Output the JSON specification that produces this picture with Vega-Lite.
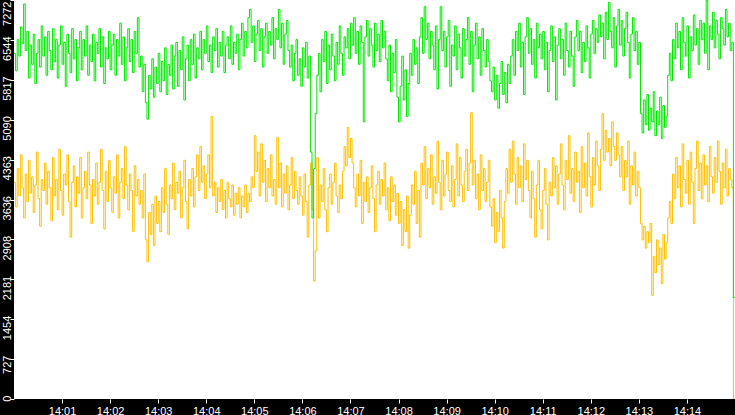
{
"$schema": "https://vega.github.io/schema/vega-lite/v6.json",
"width": 721, "height": 399,
"autosize": {"type": "none"},
"padding": {"left": 14, "top": 0, "right": 0, "bottom": 16},
"background": "#000000",
"config": {"view": {"fill": "#ffffff", "stroke": null},
"axis": {"grid": false, "domain": false, "labelColor": "#ffffff", "tickColor": "#ffffff", "labelFont": "Liberation Sans", "labelFontSize": 11, "tickSize": 4, "title": null, "labelOverlap": false}},
"data": {"values": [
{"t":0,"g":6300,"o":3950},{"t":2,"g":5980,"o":3500},{"t":4,"g":6550,"o":4200},{"t":6,"g":6250,"o":3700},{"t":8,"g":6780,"o":4450},{"t":10,"g":6480,"o":3850},{"t":12,"g":7200,"o":3300},{"t":14,"g":6350,"o":4100},{"t":16,"g":6700,"o":3600},{"t":18,"g":5850,"o":4350},
{"t":20,"g":6450,"o":3750},{"t":22,"g":6100,"o":4050},{"t":24,"g":6650,"o":3400},{"t":26,"g":5750,"o":3900},{"t":28,"g":6300,"o":4500},{"t":30,"g":6550,"o":3650},{"t":32,"g":6050,"o":3150},{"t":34,"g":6800,"o":4000},{"t":36,"g":6250,"o":3800},{"t":38,"g":6600,"o":4300},
{"t":40,"g":5900,"o":3550},{"t":42,"g":6700,"o":4150},{"t":44,"g":6350,"o":3850},{"t":46,"g":6000,"o":3250},{"t":48,"g":6750,"o":4400},{"t":50,"g":6150,"o":3700},{"t":52,"g":6550,"o":4000},{"t":54,"g":5850,"o":3450},{"t":56,"g":6450,"o":4550},{"t":58,"g":6800,"o":3800},
{"t":60,"g":6100,"o":3350},{"t":62,"g":6500,"o":4100},{"t":64,"g":5700,"o":3900},{"t":66,"g":6650,"o":4450},{"t":68,"g":6300,"o":3600},{"t":70,"g":5950,"o":2950},{"t":72,"g":6750,"o":3950},{"t":74,"g":6200,"o":4250},{"t":76,"g":6550,"o":3500},{"t":78,"g":5800,"o":4050},
{"t":80,"g":6400,"o":3750},{"t":82,"g":6700,"o":4400},{"t":84,"g":6000,"o":3300},{"t":86,"g":6550,"o":3850},{"t":88,"g":6250,"o":4150},{"t":90,"g":6800,"o":3650},{"t":92,"g":5900,"o":4500},{"t":94,"g":6450,"o":3900},{"t":96,"g":6150,"o":3200},{"t":98,"g":6650,"o":4000},
{"t":100,"g":5800,"o":3700},{"t":102,"g":6500,"o":4300},{"t":104,"g":6300,"o":3550},{"t":106,"g":6750,"o":3950},{"t":108,"g":6050,"o":4550},{"t":110,"g":6600,"o":3800},{"t":112,"g":5750,"o":3100},{"t":114,"g":6400,"o":4150},{"t":116,"g":6200,"o":3600},{"t":118,"g":6700,"o":4350},
{"t":120,"g":6000,"o":3850},{"t":122,"g":6450,"o":3400},{"t":124,"g":6650,"o":4050},{"t":126,"g":5900,"o":3750},{"t":128,"g":6550,"o":4450},{"t":130,"g":6250,"o":3300},{"t":132,"g":6850,"o":3950},{"t":134,"g":6100,"o":4200},{"t":136,"g":6600,"o":3650},{"t":138,"g":5800,"o":4600},
{"t":140,"g":6400,"o":3900},{"t":142,"g":6750,"o":3450},{"t":144,"g":6150,"o":4100},{"t":146,"g":6550,"o":3800},{"t":148,"g":5950,"o":3050},{"t":150,"g":6700,"o":4250},{"t":152,"g":6300,"o":3700},{"t":154,"g":6950,"o":4000},{"t":156,"g":6050,"o":3550},{"t":158,"g":6250,"o":3800},
{"t":160,"g":5600,"o":3300},{"t":162,"g":6100,"o":4100},{"t":164,"g":5400,"o":2900},{"t":166,"g":5100,"o":2500},{"t":168,"g":5900,"o":3400},{"t":170,"g":5650,"o":3000},{"t":172,"g":6200,"o":3550},{"t":174,"g":5500,"o":2800},{"t":176,"g":6050,"o":3700},{"t":178,"g":5750,"o":3200},
{"t":180,"g":6300,"o":3600},{"t":182,"g":5600,"o":3050},{"t":184,"g":6150,"o":3850},{"t":186,"g":5800,"o":3400},{"t":188,"g":6400,"o":4200},{"t":190,"g":5550,"o":3550},{"t":192,"g":6100,"o":3000},{"t":194,"g":5900,"o":3900},{"t":196,"g":6450,"o":3650},{"t":198,"g":5650,"o":4300},
{"t":200,"g":6250,"o":3450},{"t":202,"g":6500,"o":3950},{"t":204,"g":5700,"o":3750},{"t":206,"g":6350,"o":4150},{"t":208,"g":6000,"o":3300},{"t":210,"g":6600,"o":3850},{"t":212,"g":5450,"o":4350},{"t":214,"g":6200,"o":3600},{"t":216,"g":6450,"o":3100},{"t":218,"g":5800,"o":4000},
{"t":220,"g":6550,"o":3700},{"t":222,"g":6100,"o":4200},{"t":224,"g":6650,"o":3500},{"t":226,"g":5850,"o":4050},{"t":228,"g":6400,"o":4450},{"t":230,"g":6200,"o":3800},{"t":232,"g":6700,"o":4600},{"t":234,"g":6000,"o":3950},{"t":236,"g":6550,"o":4250},{"t":238,"g":6300,"o":3650},
{"t":240,"g":6800,"o":4100},{"t":242,"g":6150,"o":4450},{"t":244,"g":6450,"o":3850},{"t":246,"g":5950,"o":5150},{"t":248,"g":6600,"o":3700},{"t":250,"g":6350,"o":3950},{"t":252,"g":6750,"o":3400},{"t":254,"g":6050,"o":3850},{"t":256,"g":6500,"o":3600},{"t":258,"g":6250,"o":4000},
{"t":260,"g":6700,"o":3450},{"t":262,"g":5950,"o":3800},{"t":264,"g":6450,"o":3300},{"t":266,"g":6600,"o":3950},{"t":268,"g":6200,"o":3650},{"t":270,"g":6800,"o":3500},{"t":272,"g":6100,"o":3900},{"t":274,"g":6500,"o":3350},{"t":276,"g":6300,"o":3750},{"t":278,"g":6650,"o":3550},
{"t":280,"g":6000,"o":3850},{"t":282,"g":6550,"o":3300},{"t":284,"g":6850,"o":3700},{"t":286,"g":6250,"o":3500},{"t":288,"g":6700,"o":3900},{"t":290,"g":6400,"o":3400},{"t":292,"g":6950,"o":3750},{"t":294,"g":7100,"o":3600},{"t":296,"g":6500,"o":4050},{"t":298,"g":6800,"o":3850},
{"t":300,"g":6150,"o":4800},{"t":302,"g":6650,"o":4150},{"t":304,"g":6900,"o":4500},{"t":306,"g":6350,"o":3700},{"t":308,"g":6750,"o":4650},{"t":310,"g":6050,"o":3950},{"t":312,"g":6600,"o":4350},{"t":314,"g":6850,"o":3600},{"t":316,"g":6300,"o":4200},{"t":318,"g":6700,"o":3850},
{"t":320,"g":6450,"o":4450},{"t":322,"g":6950,"o":3700},{"t":324,"g":6200,"o":4000},{"t":326,"g":6750,"o":3550},{"t":328,"g":6550,"o":4770},{"t":330,"g":7100,"o":3850},{"t":332,"g":6400,"o":4300},{"t":334,"g":6850,"o":3500},{"t":336,"g":6100,"o":4100},{"t":338,"g":6650,"o":3750},
{"t":340,"g":6900,"o":4250},{"t":342,"g":6350,"o":3450},{"t":344,"g":6050,"o":3900},{"t":346,"g":6450,"o":4400},{"t":348,"g":5800,"o":3650},{"t":350,"g":6300,"o":4150},{"t":352,"g":6550,"o":3800},{"t":354,"g":5900,"o":3550},{"t":356,"g":6200,"o":4050},{"t":358,"g":5700,"o":3700},
{"t":360,"g":6400,"o":3350},{"t":362,"g":6050,"o":4100},{"t":364,"g":6500,"o":3600},{"t":366,"g":5850,"o":2950},{"t":368,"g":6250,"o":3900},{"t":370,"g":4500,"o":4300},{"t":372,"g":3300,"o":3450},{"t":374,"g":4200,"o":2150},{"t":376,"g":5200,"o":2700},{"t":378,"g":5900,"o":4400},
{"t":380,"g":6300,"o":3300},{"t":382,"g":5600,"o":3900},{"t":384,"g":6550,"o":3600},{"t":386,"g":6150,"o":4200},{"t":388,"g":6700,"o":3450},{"t":390,"g":5750,"o":3050},{"t":392,"g":6450,"o":3850},{"t":394,"g":6000,"o":4100},{"t":396,"g":6650,"o":3550},{"t":398,"g":6250,"o":3950},
{"t":400,"g":5800,"o":4300},{"t":402,"g":6500,"o":3700},{"t":404,"g":6100,"o":3400},{"t":406,"g":6800,"o":3900},{"t":408,"g":6300,"o":3650},{"t":410,"g":5900,"o":4150},{"t":412,"g":6600,"o":4600},{"t":414,"g":6400,"o":4250},{"t":416,"g":6750,"o":4950},{"t":418,"g":6200,"o":4400},
{"t":420,"g":6850,"o":4750},{"t":422,"g":6450,"o":4300},{"t":424,"g":6950,"o":3850},{"t":426,"g":6300,"o":3500},{"t":428,"g":6700,"o":4100},{"t":430,"g":6100,"o":3700},{"t":432,"g":6800,"o":4350},{"t":434,"g":6500,"o":3200},{"t":436,"g":5050,"o":3950},{"t":438,"g":6600,"o":3600},
{"t":440,"g":6900,"o":4050},{"t":442,"g":6250,"o":3400},{"t":444,"g":6750,"o":3850},{"t":446,"g":6450,"o":4250},{"t":448,"g":6050,"o":3650},{"t":450,"g":6850,"o":3050},{"t":452,"g":6350,"o":3900},{"t":454,"g":6650,"o":4150},{"t":456,"g":6150,"o":3550},{"t":458,"g":6900,"o":4000},
{"t":460,"g":6400,"o":3700},{"t":462,"g":6700,"o":4300},{"t":464,"g":6200,"o":3450},{"t":466,"g":5800,"o":3850},{"t":468,"g":6450,"o":3250},{"t":470,"g":5600,"o":4050},{"t":472,"g":6300,"o":3600},{"t":474,"g":5950,"o":3900},{"t":476,"g":6550,"o":3350},{"t":478,"g":5500,"o":3750},
{"t":480,"g":5050,"o":3200},{"t":482,"g":5700,"o":3600},{"t":484,"g":6250,"o":2800},{"t":486,"g":5450,"o":3450},{"t":488,"g":6000,"o":3050},{"t":490,"g":5150,"o":3700},{"t":492,"g":5750,"o":2750},{"t":494,"g":6300,"o":3350},{"t":496,"g":5900,"o":3900},{"t":498,"g":6550,"o":3550},
{"t":500,"g":6100,"o":4150},{"t":502,"g":6400,"o":3200},{"t":504,"g":5750,"o":3800},{"t":506,"g":6600,"o":2950},{"t":508,"g":6950,"o":4300},{"t":510,"g":6300,"o":3900},{"t":512,"g":7150,"o":4600},{"t":514,"g":6550,"o":3650},{"t":516,"g":6850,"o":4200},{"t":518,"g":6200,"o":3850},
{"t":520,"g":6700,"o":4450},{"t":522,"g":6450,"o":3550},{"t":524,"g":6000,"o":4050},{"t":526,"g":6800,"o":3750},{"t":528,"g":5650,"o":4700},{"t":530,"g":6550,"o":3950},{"t":532,"g":7150,"o":3450},{"t":534,"g":6350,"o":4350},{"t":536,"g":6700,"o":3700},{"t":538,"g":6050,"o":4100},
{"t":540,"g":6600,"o":4500},{"t":542,"g":6900,"o":3800},{"t":544,"g":5700,"o":3600},{"t":546,"g":6450,"o":4250},{"t":548,"g":6250,"o":3500},{"t":550,"g":6800,"o":4000},{"t":552,"g":6000,"o":4650},{"t":554,"g":6650,"o":3700},{"t":556,"g":6400,"o":4400},{"t":558,"g":5850,"o":3900},
{"t":560,"g":6750,"o":3600},{"t":562,"g":6250,"o":4150},{"t":564,"g":6550,"o":4550},{"t":566,"g":6950,"o":3800},{"t":568,"g":6100,"o":4300},{"t":570,"g":6700,"o":5220},{"t":572,"g":5600,"o":3900},{"t":574,"g":6450,"o":4350},{"t":576,"g":6850,"o":3650},{"t":578,"g":6200,"o":4100},
{"t":580,"g":6600,"o":3450},{"t":582,"g":5900,"o":4450},{"t":584,"g":6750,"o":3800},{"t":586,"g":6350,"o":4200},{"t":588,"g":6050,"o":3600},{"t":590,"g":6550,"o":3950},{"t":592,"g":6150,"o":4350},{"t":594,"g":5800,"o":3500},{"t":596,"g":5600,"o":3150},{"t":598,"g":6050,"o":3650},
{"t":600,"g":5450,"o":2850},{"t":602,"g":5900,"o":3400},{"t":604,"g":5300,"o":3050},{"t":606,"g":5750,"o":3800},{"t":608,"g":6150,"o":3300},{"t":610,"g":5550,"o":2750},{"t":612,"g":5950,"o":3600},{"t":614,"g":5400,"o":4200},{"t":616,"g":6100,"o":3750},{"t":618,"g":5750,"o":4550},
{"t":620,"g":6250,"o":3950},{"t":622,"g":6550,"o":4700},{"t":624,"g":5900,"o":4100},{"t":626,"g":6700,"o":3550},{"t":628,"g":6350,"o":4400},{"t":630,"g":6850,"o":3850},{"t":632,"g":6050,"o":4250},{"t":634,"g":6500,"o":3600},{"t":636,"g":5550,"o":4650},{"t":638,"g":6600,"o":4000},
{"t":640,"g":6950,"o":4350},{"t":642,"g":6300,"o":3800},{"t":644,"g":6750,"o":3300},{"t":646,"g":6100,"o":4150},{"t":648,"g":6550,"o":3650},{"t":650,"g":5850,"o":2950},{"t":652,"g":6850,"o":3900},{"t":654,"g":6400,"o":4350},{"t":656,"g":6650,"o":3450},{"t":658,"g":6200,"o":3100},
{"t":660,"g":6700,"o":3800},{"t":662,"g":6000,"o":4200},{"t":664,"g":6500,"o":3550},{"t":666,"g":5600,"o":2900},{"t":668,"g":6350,"o":3950},{"t":670,"g":6800,"o":3700},{"t":672,"g":6150,"o":4400},{"t":674,"g":6600,"o":3850},{"t":676,"g":5450,"o":4250},{"t":678,"g":6450,"o":3550},
{"t":680,"g":6750,"o":4100},{"t":682,"g":6200,"o":4650},{"t":684,"g":6550,"o":3900},{"t":686,"g":5900,"o":3450},{"t":688,"g":6850,"o":4350},{"t":690,"g":6350,"o":4000},{"t":692,"g":6050,"o":4800},{"t":694,"g":6700,"o":3750},{"t":696,"g":6250,"o":4200},{"t":698,"g":5700,"o":3600},
{"t":700,"g":6600,"o":4500},{"t":702,"g":6900,"o":3950},{"t":704,"g":6350,"o":4150},{"t":706,"g":6700,"o":3400},{"t":708,"g":5950,"o":4600},{"t":710,"g":6500,"o":3850},{"t":712,"g":6150,"o":4300},{"t":714,"g":6800,"o":3700},{"t":716,"g":6400,"o":4850},{"t":718,"g":5850,"o":4050},
{"t":720,"g":6650,"o":3500},{"t":722,"g":6900,"o":4400},{"t":724,"g":6300,"o":3900},{"t":726,"g":6750,"o":4700},{"t":728,"g":6500,"o":4250},{"t":730,"g":7000,"o":3800},{"t":732,"g":6600,"o":4550},{"t":734,"g":6850,"o":5200},{"t":736,"g":6200,"o":4350},{"t":738,"g":7050,"o":4900},
{"t":740,"g":6550,"o":4500},{"t":742,"g":7230,"o":4750},{"t":744,"g":6700,"o":4250},{"t":746,"g":6400,"o":5050},{"t":748,"g":6950,"o":4600},{"t":750,"g":6050,"o":4350},{"t":752,"g":6800,"o":4850},{"t":754,"g":7100,"o":4450},{"t":756,"g":6450,"o":4050},{"t":758,"g":6900,"o":4600},
{"t":760,"g":6250,"o":3800},{"t":762,"g":6750,"o":4350},{"t":764,"g":7050,"o":4050},{"t":766,"g":6500,"o":4700},{"t":768,"g":5850,"o":3550},{"t":770,"g":6650,"o":4250},{"t":772,"g":6950,"o":3900},{"t":774,"g":6350,"o":4500},{"t":776,"g":6700,"o":3700},{"t":778,"g":6100,"o":4150},
{"t":780,"g":6500,"o":3850},{"t":782,"g":5200,"o":3200},{"t":784,"g":4850,"o":2900},{"t":786,"g":5450,"o":3150},{"t":788,"g":5000,"o":2750},{"t":790,"g":5550,"o":3050},{"t":792,"g":4900,"o":2850},{"t":794,"g":5300,"o":3200},{"t":796,"g":5050,"o":1890},{"t":798,"g":5600,"o":2600},
{"t":800,"g":4800,"o":2300},{"t":802,"g":5250,"o":2900},{"t":804,"g":5000,"o":2450},{"t":806,"g":5500,"o":2750},{"t":808,"g":4750,"o":2100},{"t":810,"g":5350,"o":3000},{"t":812,"g":4950,"o":2550},{"t":814,"g":5150,"o":2850},{"t":816,"g":5900,"o":3300},{"t":818,"g":6300,"o":3600},
{"t":820,"g":5800,"o":3200},{"t":822,"g":6550,"o":4100},{"t":824,"g":6200,"o":3650},{"t":826,"g":6850,"o":4400},{"t":828,"g":6400,"o":3850},{"t":830,"g":6700,"o":4250},{"t":832,"g":6000,"o":3500},{"t":834,"g":6950,"o":4650},{"t":836,"g":6500,"o":4000},{"t":838,"g":6250,"o":3750},
{"t":840,"g":6800,"o":4350},{"t":842,"g":5850,"o":3550},{"t":844,"g":6600,"o":4500},{"t":846,"g":6350,"o":3950},{"t":848,"g":7000,"o":3200},{"t":850,"g":6450,"o":4200},{"t":852,"g":6750,"o":4700},{"t":854,"g":6100,"o":3800},{"t":856,"g":6900,"o":4300},{"t":858,"g":6550,"o":3650},
{"t":860,"g":6850,"o":4450},{"t":862,"g":6300,"o":3900},{"t":864,"g":7272,"o":4250},{"t":866,"g":6000,"o":3600},{"t":868,"g":6800,"o":4600},{"t":870,"g":6550,"o":4050},{"t":872,"g":7050,"o":3750},{"t":874,"g":6400,"o":4400},{"t":876,"g":6900,"o":3950},{"t":878,"g":6650,"o":4700},
{"t":880,"g":6200,"o":4150},{"t":882,"g":6950,"o":3550},{"t":884,"g":6750,"o":4300},{"t":886,"g":6450,"o":3850},{"t":888,"g":7100,"o":4550},{"t":890,"g":6600,"o":3700},{"t":892,"g":6850,"o":4200},{"t":894,"g":6350,"o":4000},{"t":896,"g":6500,"o":3850},{"t":898,"g":1850,"o":0},
{"t":900,"g":1850,"o":0}
]},
"encoding": {
"x": {"field": "t", "type": "quantitative", "scale": {"domain": [0, 900], "nice": false, "zero": false},
"axis": {"values": [60,120,180,240,300,360,420,480,540,600,660,720,780,840], "labelPadding": 2, "labelOverlap": false, "labelExpr": "'14:' + (datum.value < 600 ? '0' : '') + (datum.value / 60)"}}
},
"layer": [
{"mark": {"type": "line", "interpolate": "step-after", "strokeWidth": 1, "color": "#ffc000", "clip": true},
"encoding": {"y": {"field": "o", "type": "quantitative", "scale": {"domain": [0, 7272], "nice": false},
"axis": {"values": [0,727,1454,2181,2908,3636,4363,5090,5817,6544,7272], "format": "d", "labelOverlap": false, "labelSeparation": 0, "labelAngle": 270, "labelAlign": "right", "labelBaseline": "alphabetic", "labelPadding": 0, "labelOffset": {"condition": {"test": "datum.value > 7000", "value": 1}, "value": -4}}}}},
{"mark": {"type": "line", "interpolate": "step-after", "strokeWidth": 1, "color": "#00e800", "clip": true},
"encoding": {"y": {"field": "g", "type": "quantitative",
"axis": {"values": [0,727,1454,2181,2908,3636,4363,5090,5817,6544,7272], "format": "d", "labelOverlap": false, "labelSeparation": 0, "labelAngle": 270, "labelAlign": "right", "labelBaseline": "alphabetic", "labelPadding": 0, "labelOffset": {"condition": {"test": "datum.value > 7000", "value": 1}, "value": -4}}}}}
]
}
